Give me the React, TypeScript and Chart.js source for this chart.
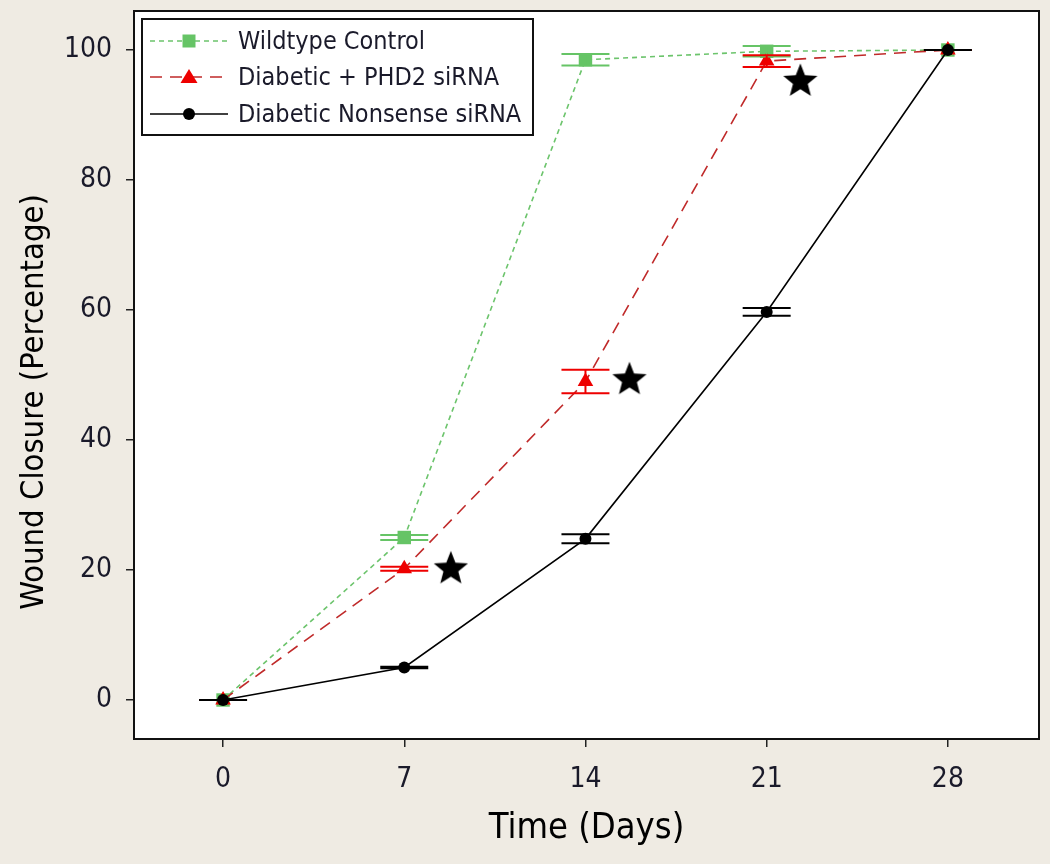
import React, { useEffect, useRef } from "react";
import { Chart, registerables } from "chart.js";

Chart.register(...registerables);

// ---- data ----
const days = [0, 7, 14, 21, 28];
const seriesLabels = ["Wildtype Control", "Diabetic + PHD2 siRNA", "Diabetic Nonsense siRNA"];
const wildtype = [0, 25, 98.5, 99.8, 100];
const wildtypeErr = [0, 0.4, 0.9, 0.8, 0];
const phd2 = [0, 20.2, 49, 98.3, 100];
const phd2Err = [0, 0.3, 1.8, 0.9, 0];
const nonsense = [0, 5, 24.8, 59.7, 100];
const nonsenseErr = [0, 0.1, 0.7, 0.6, 0];
const starDays = [8.8, 15.7, 22.3];
const starValues = [20.4, 49.5, 95.4];
const xTicks = [0, 7, 14, 21, 28];
const yTicks = [0, 20, 40, 60, 80, 100];
const yTitle = "Wound Closure (Percentage)";
const xTitle = "Time (Days)";

const GREEN = "#66c466";
const GREEN_LINE = "#6cc46c";
const RED = "#ee0000";
const RED_LINE = "#c02a2a";
const BLACK = "#000000";
const FONT = '"DejaVu Sans Condensed", "DejaVu Sans", sans-serif';

const toXY = (vals: number[]) => days.map((d, i) => ({ x: d, y: vals[i] }));

export default function App() {
  const ref = useRef<HTMLCanvasElement>(null);

  useEffect(() => {
    document.body.style.margin = "0";
    const canvas = ref.current;
    if (!canvas) return;

    // filled star image for significance markers
    const star = document.createElement("canvas");
    star.width = 38;
    star.height = 38;
    const sc = star.getContext("2d")!;
    sc.fillStyle = "#000";
    sc.beginPath();
    for (let i = 0; i < 10; i++) {
      const r = i % 2 === 0 ? 18 : 7.8;
      const a = -Math.PI / 2 + (i * Math.PI) / 5;
      const px = 19 + r * Math.cos(a);
      const py = 20.5 + r * Math.sin(a);
      if (i === 0) sc.moveTo(px, py);
      else sc.lineTo(px, py);
    }
    sc.closePath();
    sc.fill();

    const legendStyles = [
      { line: GREEN_LINE, dash: [5, 4], marker: "rect", mcolor: GREEN },
      { line: RED_LINE, dash: [12, 8], marker: "triangle", mcolor: RED },
      { line: BLACK, dash: [], marker: "circle", mcolor: BLACK },
    ];

    const drawMarker = (ctx: CanvasRenderingContext2D, kind: string, x: number, y: number, color: string) => {
      ctx.save();
      ctx.fillStyle = color;
      ctx.beginPath();
      if (kind === "rect") ctx.rect(x - 6.5, y - 6.5, 13, 13);
      else if (kind === "triangle") {
        ctx.moveTo(x, y - 8);
        ctx.lineTo(x + 8.5, y + 6);
        ctx.lineTo(x - 8.5, y + 6);
        ctx.closePath();
      } else ctx.arc(x, y, 6, 0, Math.PI * 2);
      ctx.fill();
      ctx.restore();
    };

    const framePlugin = {
      id: "frame",
      beforeDraw(chart: any) {
        const { ctx, chartArea: a } = chart;
        ctx.save();
        ctx.fillStyle = "#ffffff";
        ctx.fillRect(a.left, a.top, a.right - a.left, a.bottom - a.top);
        // y axis title
        ctx.translate(35, 402);
        ctx.rotate(-Math.PI / 2);
        ctx.fillStyle = "#000";
        ctx.font = `32.5px ${FONT}`;
        ctx.textAlign = "center";
        ctx.textBaseline = "middle";
        ctx.fillText(yTitle, 0, 0);
        ctx.restore();
      },
      afterDatasetsDraw(chart: any) {
        const { ctx, chartArea: a } = chart;
        const ys = chart.scales.y;
        // error bars (last dataset first so the first one ends on top)
        const sets = chart.data.datasets.map((ds: any, di: number) => ({ ds, di })).reverse();
        sets.forEach(({ ds, di }: any) => {
          if (!ds.errors) return;
          const meta = chart.getDatasetMeta(di);
          ctx.save();
          ctx.strokeStyle = ds.errColor;
          ctx.lineWidth = 2;
          meta.data.forEach((pt: any, i: number) => {
            const v = ds.data[i].y;
            const e = ds.errors[i];
            const x = pt.x;
            const yTop = ys.getPixelForValue(v + e);
            const yBot = ys.getPixelForValue(v - e);
            ctx.beginPath();
            ctx.moveTo(x - 24, yTop);
            ctx.lineTo(x + 24, yTop);
            ctx.moveTo(x - 24, yBot);
            ctx.lineTo(x + 24, yBot);
            ctx.moveTo(x, yTop);
            ctx.lineTo(x, yBot);
            ctx.stroke();
          });
          ctx.restore();
        });
        // plot frame
        ctx.save();
        ctx.strokeStyle = "#111";
        ctx.lineWidth = 2;
        ctx.strokeRect(a.left, a.top, a.right - a.left, a.bottom - a.top);
        ctx.restore();
      },
      afterDraw(chart: any) {
        const { ctx } = chart;
        const bx = 142, by = 19, bw = 391, bh = 116;
        ctx.save();
        ctx.fillStyle = "#ffffff";
        ctx.fillRect(bx, by, bw, bh);
        ctx.strokeStyle = "#111";
        ctx.lineWidth = 2;
        ctx.strokeRect(bx, by, bw, bh);
        const rows = [41, 77, 114];
        seriesLabels.forEach((lab, i) => {
          const st = legendStyles[i];
          const y = rows[i];
          ctx.save();
          ctx.strokeStyle = st.line;
          ctx.lineWidth = 1.6;
          ctx.setLineDash(st.dash);
          ctx.beginPath();
          ctx.moveTo(150, y);
          ctx.lineTo(228, y);
          ctx.stroke();
          ctx.restore();
          drawMarker(ctx, st.marker, 189, y, st.mcolor);
          ctx.fillStyle = "#1a1a2a";
          ctx.font = `25px ${FONT}`;
          ctx.textBaseline = "middle";
          ctx.textAlign = "left";
          ctx.fillText(lab, 238, y + 1);
        });
        ctx.restore();
      },
    };

    const chart = new Chart(canvas, {
      type: "line",
      data: {
        datasets: [
          {
            label: seriesLabels[2],
            data: toXY(nonsense),
            borderColor: BLACK,
            backgroundColor: BLACK,
            borderWidth: 1.6,
            pointStyle: "circle",
            pointRadius: 6,
            pointBorderWidth: 0,
            tension: 0,
            order: 0,
            errors: nonsenseErr,
            errColor: BLACK,
          } as any,
          {
            label: seriesLabels[1],
            data: toXY(phd2),
            borderColor: RED_LINE,
            backgroundColor: RED,
            borderWidth: 1.6,
            borderDash: [12, 8],
            pointStyle: "triangle",
            pointRadius: 9,
            pointBorderWidth: 0,
            pointBorderColor: RED,
            tension: 0,
            order: 1,
            errors: phd2Err,
            errColor: RED,
          } as any,
          {
            label: seriesLabels[0],
            data: toXY(wildtype),
            borderColor: GREEN_LINE,
            backgroundColor: GREEN,
            borderWidth: 1.6,
            borderDash: [5, 4],
            pointStyle: "rect",
            pointRadius: 9.5,
            pointBorderWidth: 0,
            pointBorderColor: GREEN,
            tension: 0,
            order: 2,
            errors: wildtypeErr,
            errColor: GREEN,
          } as any,
          {
            label: "significance",
            type: "scatter",
            data: starDays.map((d, i) => ({ x: d, y: starValues[i] })),
            pointStyle: star as any,
            pointRadius: 18,
            showLine: false,
            order: 3,
          } as any,
        ],
      },
      options: {
        responsive: false,
        animation: false,
        layout: { autoPadding: false, padding: { top: 11, right: 11, left: 0, bottom: 0 } },
        plugins: {
          legend: { display: false },
          tooltip: { enabled: false },
        },
        scales: {
          x: {
            type: "linear",
            min: -3.44,
            max: 31.52,
            afterBuildTicks: (s: any) => {
              s.ticks = xTicks.map((v) => ({ value: v }));
            },
            afterFit: (s: any) => {
              s.height = 125;
              s.paddingLeft = 0;
              s.paddingRight = 0;
            },
            ticks: {
              color: "#1a1a2a",
              font: { family: FONT, size: 28 },
              padding: 16,
              maxRotation: 0,
            },
            grid: {
              display: true,
              drawOnChartArea: false,
              drawTicks: true,
              tickLength: 8,
              color: "#222",
              lineWidth: 1.5,
            },
            border: { display: false },
            title: {
              display: true,
              text: xTitle,
              color: "#000",
              font: { family: FONT, size: 36 },
              padding: { top: 0, bottom: 14 },
            },
          },
          y: {
            type: "linear",
            min: -6,
            max: 106,
            afterBuildTicks: (s: any) => {
              s.ticks = yTicks.map((v) => ({ value: v }));
            },
            afterFit: (s: any) => {
              s.width = 134;
              s.paddingTop = 0;
              s.paddingBottom = 0;
            },
            ticks: {
              color: "#1a1a2a",
              font: { family: FONT, size: 28 },
              padding: 14,
            },
            grid: {
              display: true,
              drawOnChartArea: false,
              drawTicks: true,
              tickLength: 8,
              color: "#222",
              lineWidth: 1.5,
            },
            border: { display: false },
            title: { display: false },
          },
        },
      },
      plugins: [framePlugin],
    } as any);

    return () => chart.destroy();
  }, []);

  return (
    <div style={{ position: "fixed", left: 0, top: 0, width: 1050, height: 864, background: "#efebe3" }}>
      <canvas ref={ref} width={1050} height={864} style={{ display: "block" }} />
    </div>
  );
}
